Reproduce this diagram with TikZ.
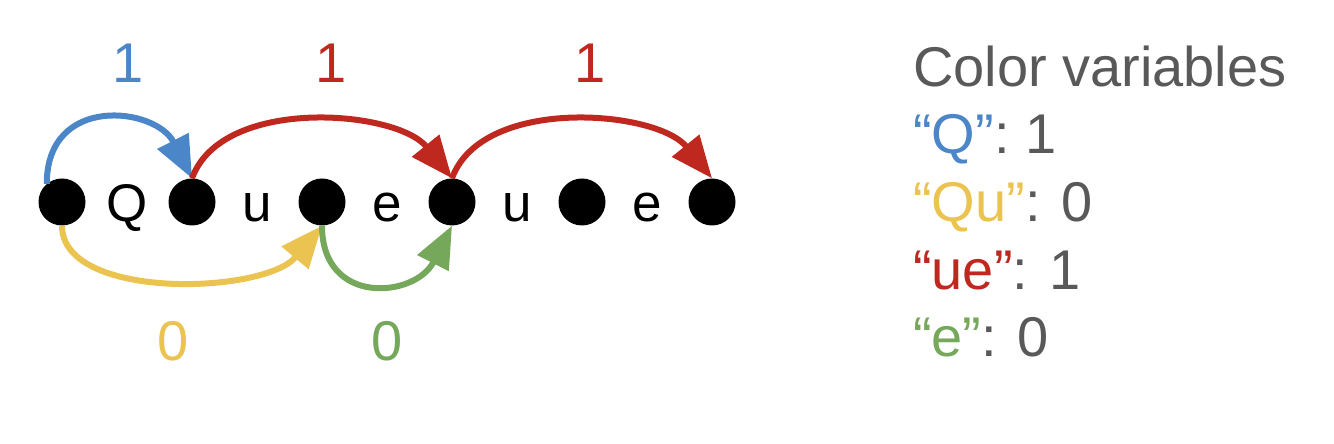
\documentclass[tikz,border=0pt]{standalone}
\usepackage{fontspec}
\setmainfont{Liberation Sans}
\usetikzlibrary{arrows.meta}
\definecolor{QClr}{RGB}{74,134,200}
\definecolor{QuClr}{RGB}{235,195,80}
\definecolor{UeClr}{RGB}{190,40,30}
\definecolor{EClr}{RGB}{117,168,90}
\definecolor{TextClr}{RGB}{89,89,89}

\begin{document}
\begin{tikzpicture}[x=1pt,y=1pt,
  dot/.style={circle,fill=black,inner sep=0pt,minimum size=47pt},
  letter/.style={anchor=base,inner sep=0pt,font=\fontsize{53}{64}\selectfont},
  count/.style={anchor=base,inner sep=0pt,font=\fontsize{56}{67}\selectfont},
  legend/.style={anchor=base west,inner sep=0pt,text=TextClr,font=\fontsize{56}{67}\selectfont},
  hop/.style={line width=6pt,-{Triangle[length=42pt,width=34pt]}}]
\useasboundingbox (0,0) rectangle (1334,444);

\foreach \i in {0,...,5} \node[dot] (d\i) at (62+130*\i,242) {};
\foreach \ch [count=\i] in {Q,u,e,u,e} \node[letter] (c\i) at (-3+130*\i,222) {\ch};

\draw[hop,QClr] (d0.130) to[out=90,in=117,out distance=90pt,in distance=80pt] (d1.north);
\draw[hop,UeClr] (d1.north) to[out=70,in=129,distance=88pt] (d3.north);
\draw[hop,UeClr] (d3.north) to[out=70,in=129,distance=88pt] (d5.north);
\draw[hop,QuClr] (d0.south) to[out=-90,in=230,out distance=75pt,in distance=90pt] (d2.south);
\draw[hop,EClr] (d2.south) to[out=-90,in=243,distance=81pt] (d3.south);

\node[count,text=QClr] (n1) at (128,361) {1};
\node[count,text=UeClr] (n2) at (331,361) {1};
\node[count,text=UeClr] (n3) at (590,361) {1};
\node[count,text=QuClr] (n4) at (173,83) {0};
\node[count,text=EClr] (n5) at (387,83) {0};

\node[legend] (title) at (913,357) {Color variables};
\node[legend] (lq) at (913,290) {\textcolor{QClr}{“Q”}: 1};
\node[legend] (lqu) at (913,222) {\textcolor{QuClr}{“Qu”}: 0};
\node[legend] (lue) at (913,154) {\textcolor{UeClr}{“ue”}: 1};
\node[legend] (le) at (913,87) {\textcolor{EClr}{“e”}: 0};

\end{tikzpicture}
\end{document}
